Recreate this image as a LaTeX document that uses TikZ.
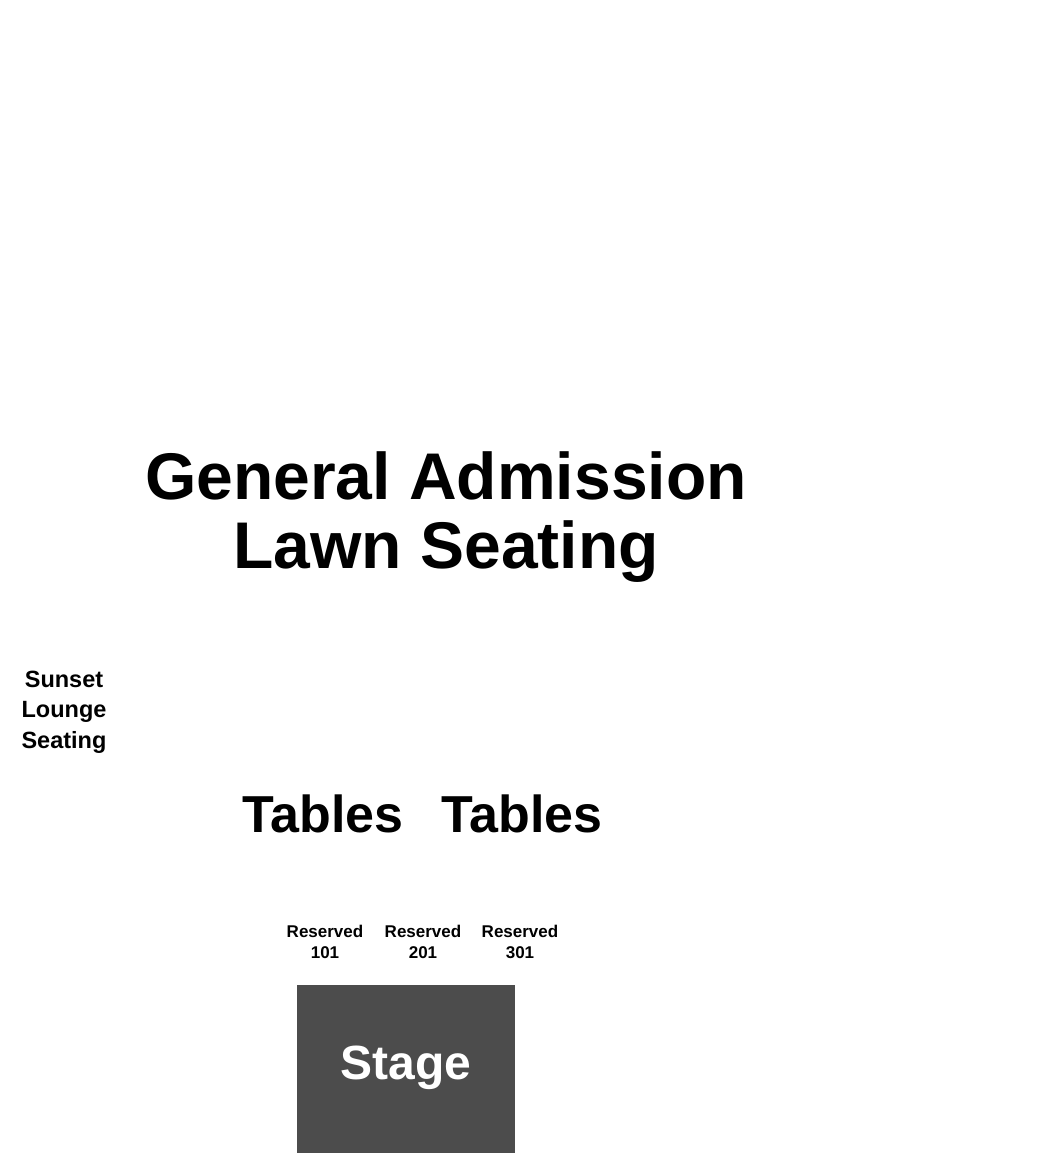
\documentclass[tikz,border=0pt]{standalone}
\usepackage{fontspec}
\setmainfont{Liberation Sans}
\usetikzlibrary{positioning}
\tikzset{
  lbl/.style={font=\bfseries, align=center, inner sep=0pt},
  resv/.style={lbl, font=\bfseries\fontsize{17}{21}\selectfont},
  tbl/.style={lbl, font=\bfseries\fontsize{52}{60}\selectfont}
}
\begin{document}
\begin{tikzpicture}[x=1pt,y=-1pt]
  \useasboundingbox (0,0) rectangle (1050,1170);
  \node[lbl, font=\bfseries\fontsize{66}{69}\selectfont] (ga) at (446,517) {General Admission\\Lawn Seating};
  \node[lbl, font=\bfseries\fontsize{23.5}{30.5}\selectfont] (sunset) at (64,712) {Sunset\\Lounge\\Seating};
  \node[tbl] (tablesa) at (323,814) {Tables};
  \node[tbl] (tablesb) at (522,814) {Tables};
  \node[resv] (r101) at (325,942) {Reserved\\101};
  \node[resv] (r201) at (423,942) {Reserved\\201};
  \node[resv] (r301) at (520,942) {Reserved\\301};
  \fill[black!70] (297,985) rectangle (515,1153);
  \node[lbl, text=white, font=\bfseries\fontsize{48}{56}\selectfont] (stage) at (406,1068) {Stage};
\end{tikzpicture}
\end{document}
